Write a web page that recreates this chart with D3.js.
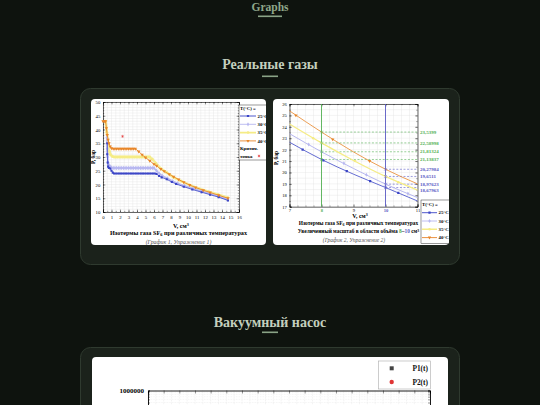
<!DOCTYPE html>
<html><head><meta charset="utf-8">
<script src="https://cdn.jsdelivr.net/npm/d3@7"></script>
<style>html,body{margin:0;padding:0;background:#0e130e;overflow:hidden}</style>
</head><body>
<svg id="c" width="540" height="405"></svg>
<script>
// ---------- DATA ----------
const headings = ["Graphs", "Реальные газы", "Вакуумный насос"];
const seriesNames = ["25°C", "30°C", "35°C", "40°C"];

// Chart 1: isotherms P(V)
const c1XTicks = [0,1,2,3,4,5,6,7,8,9,10,11,12,13,14,15,16];
const c1YTicks = [10,15,20,25,30,35,40,45,50];
const c1T25 = [[0.5,35],[0.5,31],[0.55,28],[0.6,26.5],[0.7,26],[0.85,25.8],[1.0,25],[1.15,24.3],[1.3,24],[1.5,24],[1.7,24],[1.9,24],[2.1,24],[2.3,24],[2.5,24],[2.7,24],[2.9,24],[3.1,24],[3.3,24],[3.5,24],[3.7,24],[3.9,24],[4.1,24],[4.3,24],[4.5,24],[4.7,24],[4.9,24],[5.1,24],[5.3,24],[5.5,24],[5.7,24],[5.9,24],[6.1,24],[6.3,23.8],[6.6,23.1],[6.9,22.6],[7.5,21.9],[8.1,20.9],[8.6,20.2],[9.5,19.2],[10.5,18.2],[11.6,17.2],[12.6,16.3],[13.6,15.4],[14.7,14.2]];
const c1T30 = [[0.45,37],[0.5,33],[0.55,30],[0.6,28],[0.7,27],[0.85,26.5],[1.0,26.2],[1.2,26],[1.4,26],[1.6,26],[1.8,26],[2.0,26],[2.2,26],[2.4,26],[2.6,26],[2.8,26],[3.0,26],[3.2,26],[3.4,26],[3.6,26],[3.8,26],[4.0,26],[4.2,26],[4.4,26],[4.6,26],[4.8,26],[5.0,26],[5.2,26],[5.4,26],[5.6,26],[5.8,26],[6.0,26],[6.3,25.0],[6.6,24.0],[7.0,23.1],[7.6,22.2],[8.2,21.2],[8.8,20.4],[9.6,19.5],[10.6,18.5],[11.6,17.5],[12.6,16.6],[13.6,15.7],[14.7,14.5]];
const c1T35 = [[0.3,43],[0.45,39],[0.6,35],[0.75,32],[0.9,30.8],[1.1,30.2],[1.3,30],[1.5,30],[1.7,30],[1.9,30],[2.1,30],[2.3,30],[2.5,30],[2.7,30],[2.9,30],[3.1,30],[3.3,30],[3.5,30],[3.7,30],[3.9,30],[4.1,30],[4.3,30],[4.5,30],[4.7,30],[4.9,30],[5.1,30],[5.3,30],[5.5,30],[5.8,29.2],[6.2,27.8],[6.8,25.8],[7.5,24.3],[8.3,22.6],[9.2,21.2],[10.2,19.8],[11.2,18.6],[12.4,17.4],[13.5,16.4],[14.7,15.2]];
const c1T40 = [[0,43],[0.15,43],[0.3,43],[0.4,40.5],[0.5,38],[0.6,36.3],[0.7,35],[0.85,33.8],[1.0,33.2],[1.2,33],[1.4,33],[1.6,33],[1.8,33],[2.0,33],[2.2,33],[2.4,33],[2.6,33],[2.8,33],[3.0,33],[3.2,33],[3.4,33],[3.6,33],[3.8,33],[4.2,32],[4.6,30.8],[5.0,29.8],[5.5,28.6],[6.0,27.4],[6.3,26.8],[6.8,25.6],[7.2,24.8],[7.8,23.7],[8.3,22.8],[8.9,21.8],[9.5,20.8],[10.2,19.8],[10.9,18.9],[11.8,17.9],[12.6,17.1],[13.6,16.1],[14.7,15]];
const c1Critical = [[2.3,37.5]];

// Chart 2: zoom 7..11 cm3
const c2XTicks = [7,8,9,10,11];
const c2YTicks = [17,18,19,20,21,22,23,24,25,26];
const c2T25 = [[7,22.65],[8,21.14],[9,19.85],[10,18.68],[11,17.5]];
const c2T30 = [[7,23.4],[8,21.81],[9,20.35],[10,18.98],[11,17.8]];
const c2T35 = [[7,24.25],[8,22.59],[9,21.05],[10,19.65],[11,18.45]];
const c2T40 = [[7,25.4],[8,23.54],[9,21.8],[10,20.28],[11,19.0]];
const c2M25 = [[7.41,22.0],[8.06,21.06],[8.79,20.11],[9.52,19.24],[10.4,18.22]];
const c2M30 = [[7.6,22.45],[8.7,20.8],[9.4,19.8],[10.7,18.15]];
const c2M35 = [[7.74,23.0],[9.05,21.0],[10.4,19.15]];
const c2M40 = [[7.2,25.0],[8.35,22.9],[9.5,21.0]];
const c2GreenV = 8, c2BlueV = 10;
const c2GreenVals = [23.5399, 22.58998, 21.81324, 21.13837];
const c2GreenLabels = ["23,5399", "22,58998", "21,81324", "21,13837"];
const c2BlueVals = [20.27984, 19.6511, 18.97623, 18.67963];
const c2BlueLabels = ["20,27984", "19,6511", "18,97623", "18,67963"];

// Chart 3: vacuum pump (top edge visible only)
const c3Legend = ["P1(t)", "P2(t)"];
const c3YTopLabel = "1000000";
const c3XTicks = [0,1,2,3,4,5,6,7,8,9,10,11,12,13,14,15,16,17,18];

// ---------- DRAW ----------
const svg = d3.select("#c");
const SERIF = "Liberation Serif, Times New Roman, serif";
const COL = {b:"#3b45c6", l:"#b7b7f0", y:"#f5ec86", o:"#e8862a"};
const GREEN = "#52b052", BLUE = "#5a5ac4";

svg.append("rect").attr("width",540).attr("height",405).attr("fill","#0e130e");
const defs = svg.append("defs");
defs.append("clipPath").attr("id","p1").append("rect").attr("x",91).attr("y",99).attr("width",175).attr("height",146).attr("rx",4);
defs.append("clipPath").attr("id","p2").append("rect").attr("x",273).attr("y",99).attr("width",176).attr("height",146).attr("rx",4);
defs.append("clipPath").attr("id","p3").append("rect").attr("x",92).attr("y",357).attr("width",356).attr("height",60).attr("rx",4);

function heading(txt, y, uy, fill, fs, uw){
  svg.append("text").attr("x",270).attr("y",y).attr("text-anchor","middle")
    .attr("font-family",SERIF).attr("font-weight","bold").attr("font-size",fs)
    .attr("fill",fill).text(txt);
  svg.append("rect").attr("x",270-uw/2).attr("y",uy).attr("width",uw).attr("height",1.6)
    .attr("fill","#8aa386");
}
heading(headings[0], 10.5, 15.5, "#8ea68a", 11.5, 24);
heading(headings[1], 69, 75.5, "#c3cfbd", 14, 16);
heading(headings[2], 327, 331.5, "#c3cfbd", 14, 16);

svg.append("rect").attr("x",80.5).attr("y",88.5).attr("width",379).attr("height",176).attr("rx",10)
  .attr("fill","#1b221b").attr("stroke","#2f3a2f");
svg.append("rect").attr("x",80.5).attr("y",347.5).attr("width",379).attr("height",80).attr("rx",10)
  .attr("fill","#1b221b").attr("stroke","#2f3a2f");
svg.append("rect").attr("x",91).attr("y",99).attr("width",175).attr("height",146).attr("rx",4).attr("fill","#fff");
svg.append("rect").attr("x",273).attr("y",99).attr("width",176).attr("height",146).attr("rx",4).attr("fill","#fff");
svg.append("rect").attr("x",92).attr("y",357).attr("width",356).attr("height",60).attr("rx",4).attr("fill","#fff");

function styleAxis(sel, fs){
  sel.attr("font-family",null).attr("font-size",null);
  sel.selectAll("path.domain").attr("stroke","#000").attr("stroke-width",0.6);
  sel.selectAll(".tick line").attr("stroke","#000").attr("stroke-width",0.4);
  sel.selectAll("text").attr("font-family",SERIF).attr("font-size",fs).attr("fill","#000");
}

function frame(g, x, y, xt, yt, xminor, yminor, fs, pad){
  const [xa,xb] = x.range(), [ya,yb] = y.range();
  g.append("g").selectAll("line").data(xminor).join("line")
    .attr("x1",d=>x(d)).attr("x2",d=>x(d)).attr("y1",ya).attr("y2",yb)
    .attr("stroke","#e4e4e4").attr("stroke-width",0.4);
  g.append("g").selectAll("line").data(yminor).join("line")
    .attr("y1",d=>y(d)).attr("y2",d=>y(d)).attr("x1",xa).attr("x2",xb)
    .attr("stroke","#e4e4e4").attr("stroke-width",0.4);
  const b = g.append("g").attr("transform",`translate(0,${ya})`)
    .call(d3.axisBottom(x).tickValues(xt).tickSize(-2.4).tickPadding(pad).tickFormat(d3.format("d")));
  styleAxis(b, fs);
  const l = g.append("g").attr("transform",`translate(${xa},0)`)
    .call(d3.axisLeft(y).tickValues(yt).tickSize(-2.4).tickPadding(2.6).tickFormat(d3.format("d")));
  styleAxis(l, fs);
  const t = g.append("g").attr("transform",`translate(0,${yb})`)
    .call(d3.axisTop(x).tickValues(xt).tickSize(-2.4).tickFormat(""));
  styleAxis(t, fs);
  const r = g.append("g").attr("transform",`translate(${xb},0)`)
    .call(d3.axisRight(y).tickValues(yt).tickSize(-2.4).tickFormat(""));
  styleAxis(r, fs);
  [[d3.axisBottom(x),ya],[d3.axisTop(x),yb]].forEach(([ax,py])=>{
    const m = g.append("g").attr("transform",`translate(0,${py})`).call(ax.tickValues(xminor).tickSize(-1.2).tickFormat(""));
    styleAxis(m, fs); m.select("path.domain").remove();
  });
  [[d3.axisLeft(y),xa],[d3.axisRight(y),xb]].forEach(([ax,px])=>{
    const m = g.append("g").attr("transform",`translate(${px},0)`).call(ax.tickValues(yminor).tickSize(-1.2).tickFormat(""));
    styleAxis(m, fs); m.select("path.domain").remove();
  });
}

function marks(g, data, x, y, type, size, fill, stroke, rot){
  g.append("g").selectAll("path").data(data).join("path")
    .attr("d", d3.symbol().type(type).size(size))
    .attr("transform", d=>`translate(${x(d[0])},${y(d[1])})${rot?" rotate(180)":""}`)
    .attr("fill", fill).attr("stroke", stroke||"none").attr("stroke-width",0.5);
}
function txt(g, x, y, s, fs, opts){
  const t = g.append("text").attr("x",x).attr("y",y).attr("font-family",SERIF).attr("font-size",fs).text(s);
  Object.entries(opts||{}).forEach(([k,v])=>t.attr(k,v));
  return t;
}

// ===== Chart 1 =====
const sx1 = d3.scaleLinear().domain([0,16]).range([103,239]);
const sy1 = d3.scaleLinear().domain([10,50]).range([212,102]);
const g1 = svg.append("g").attr("clip-path","url(#p1)");
frame(g1, sx1, sy1, c1XTicks, c1YTicks, d3.range(0,16.01,0.5), d3.range(10,50.01,1), 4.8, 3.4);
const line1 = d3.line().x(d=>sx1(d[0])).y(d=>sy1(d[1]));
g1.append("path").attr("d",line1(c1T35)).attr("fill","none").attr("stroke",COL.y).attr("stroke-width",2.6).attr("opacity",0.85);
marks(g1, c1T35, sx1, sy1, d3.symbolCircle, 6, COL.y);
g1.append("path").attr("d",line1(c1T30)).attr("fill","none").attr("stroke",COL.l).attr("stroke-width",1.6);
marks(g1, c1T30, sx1, sy1, d3.symbolDiamond, 6, COL.l);
g1.append("path").attr("d",line1(c1T25)).attr("fill","none").attr("stroke",COL.b).attr("stroke-width",0.8);
marks(g1, c1T25, sx1, sy1, d3.symbolSquare, 4.5, COL.b);
g1.append("path").attr("d",line1(c1T40)).attr("fill","none").attr("stroke",COL.o).attr("stroke-width",0.9);
marks(g1, c1T40, sx1, sy1, d3.symbolTriangle, 5, COL.o, null, true);
marks(g1, c1Critical, sx1, sy1, d3.symbolAsterisk, 6, "none", "#e02828");

txt(g1, 0, 0, "P, бар", 5.5, {"transform":`translate(95,${(102+212)/2}) rotate(-90)`,"text-anchor":"middle","font-weight":"bold"});
const vl1 = txt(g1, 181, 228, "", 6.2, {"text-anchor":"middle","font-weight":"bold"});
vl1.append("tspan").text("V, см");
vl1.append("tspan").attr("dy",-2).attr("font-size",4.2).text("3");
const t1 = txt(g1, 178.5, 234.5, "", 6.2, {"text-anchor":"middle","font-weight":"bold"});
t1.append("tspan").text("Изотермы газа SF");
t1.append("tspan").attr("dy",1.4).attr("font-size",4.4).text("6");
t1.append("tspan").attr("dy",-1.4).text(" при различных температурах");
txt(g1, 178.5, 243.5, "(График 1, Упражнение 1)", 5.8, {"text-anchor":"middle","font-style":"italic","fill":"#555"});

const lgCols = [COL.b, COL.l, COL.y, COL.o];
const lgSyms = [d3.symbolSquare, d3.symbolDiamond, d3.symbolCircle, d3.symbolTriangle];
const lg1 = g1.append("g");
lg1.append("rect").attr("x",239).attr("y",105).attr("width",30).attr("height",55).attr("fill","#fff").attr("stroke","#000").attr("stroke-width",0.4);
txt(lg1, 240, 110.2, "T(°C) =", 4.8, {"font-weight":"bold"});
seriesNames.forEach((s,i)=>{
  const yy = 116 + i*8.3;
  lg1.append("line").attr("x1",240).attr("x2",256).attr("y1",yy).attr("y2",yy).attr("stroke",lgCols[i]).attr("stroke-width",i===2?1.6:0.9);
  lg1.append("path").attr("d",d3.symbol().type(lgSyms[i]).size(5)()).attr("transform",`translate(248,${yy})${i===3?" rotate(180)":""}`).attr("fill",lgCols[i]);
  txt(lg1, 257.5, yy+1.7, s, 4.8, {"font-weight":"bold"});
});
txt(lg1, 240, 150, "Критич.", 4.8, {"font-weight":"bold"});
txt(lg1, 240, 157.5, "точка", 4.8, {"font-weight":"bold"});
lg1.append("path").attr("d",d3.symbol().type(d3.symbolAsterisk).size(5)()).attr("transform","translate(259,156)").attr("fill","none").attr("stroke","#e02828").attr("stroke-width",0.6);

// ===== Chart 2 =====
const sx2 = d3.scaleLinear().domain([7,11]).range([289.5,417.5]);
const sy2 = d3.scaleLinear().domain([17,26]).range([206.7,104]);
const g2 = svg.append("g").attr("clip-path","url(#p2)");
frame(g2, sx2, sy2, c2XTicks, c2YTicks, d3.range(7,11.01,0.25), d3.range(17,26.01,0.5), 4.6, 2.2);
g2.selectAll("text").filter(function(){return this.textContent==="8";}).attr("fill",GREEN).attr("font-weight","bold");
g2.selectAll("text").filter(function(){return this.textContent==="10";}).attr("fill",BLUE).attr("font-weight","bold");
const vline = d3.line();
[[c2GreenV,GREEN],[c2BlueV,BLUE]].forEach(([v,c])=>{
  g2.append("path").attr("d",vline([[sx2(v),sy2(17)],[sx2(v),sy2(26)]]))
    .attr("fill","none").attr("stroke",c).attr("stroke-width",0.9);
});
g2.append("g").selectAll("line").data(c2GreenVals).join("line")
  .attr("x1",sx2(c2GreenV)).attr("x2",sx2(11)).attr("y1",d=>sy2(d)).attr("y2",d=>sy2(d))
  .attr("stroke",GREEN).attr("stroke-width",0.6).attr("stroke-dasharray","2,1.6");
g2.append("g").selectAll("line").data(c2BlueVals).join("line")
  .attr("x1",sx2(c2BlueV)).attr("x2",sx2(11)).attr("y1",d=>sy2(d)).attr("y2",d=>sy2(d))
  .attr("stroke",BLUE).attr("stroke-width",0.6).attr("stroke-dasharray","2,1.6");
const line2 = d3.line().x(d=>sx2(d[0])).y(d=>sy2(d[1])).curve(d3.curveMonotoneX);
[[c2T35,COL.y,c2M35,d3.symbolCircle,1.3],[c2T30,COL.l,c2M30,d3.symbolDiamond,1],[c2T25,COL.b,c2M25,d3.symbolSquare,0.8],[c2T40,COL.o,c2M40,d3.symbolTriangle,0.8]]
  .forEach(([d,c,m,s,w],i)=>{
    g2.append("path").attr("d",line2(d)).attr("fill","none").attr("stroke",c).attr("stroke-width",w);
    marks(g2, m, sx2, sy2, s, 5, c, null, i===3);
  });
marks(g2, c2GreenVals.map(v=>[c2GreenV,v]), sx2, sy2, d3.symbolX, 6, "none", GREEN);
marks(g2, c2BlueVals.map(v=>[c2BlueV,v]), sx2, sy2, d3.symbolX, 6, "none", BLUE);
function placeLabels(vals){ let last=-1e9; return vals.map(v=>{let yy=sy2(v); if(yy<last+6.6) yy=last+6.6; last=yy; return yy;}); }
const gy = placeLabels(c2GreenVals), by = placeLabels(c2BlueVals);
c2GreenLabels.forEach((t,i)=>txt(g2, 420, gy[i]+1.7, t, 5, {"font-weight":"bold","fill":GREEN}));
c2BlueLabels.forEach((t,i)=>txt(g2, 420, by[i]+1.7, t, 5, {"font-weight":"bold","fill":BLUE}));
txt(g2, 0, 0, "P, бар", 5.5, {"transform":`translate(278,158) rotate(-90)`,"text-anchor":"middle","font-weight":"bold"});
const vl2 = txt(g2, 360, 218.2, "", 6, {"text-anchor":"middle","font-weight":"bold"});
vl2.append("tspan").text("V, см"); vl2.append("tspan").attr("dy",-2).attr("font-size",4).text("3");
const t2 = txt(g2, 358.5, 224.8, "", 5.4, {"text-anchor":"middle","font-weight":"bold"});
t2.append("tspan").text("Изотермы газа SF");
t2.append("tspan").attr("dy",1.3).attr("font-size",4).text("6");
t2.append("tspan").attr("dy",-1.3).text(" при различных температурах");
const t2b = txt(g2, 358.5, 233.3, "", 5.4, {"text-anchor":"middle","font-weight":"bold"});
t2b.append("tspan").text("Увеличенный масштаб в области объёма ");
t2b.append("tspan").attr("fill",GREEN).text("8");
t2b.append("tspan").text("–");
t2b.append("tspan").attr("fill",BLUE).text("10");
t2b.append("tspan").text(" см");
t2b.append("tspan").attr("dy",-1.7).attr("font-size",3.8).text("3");
txt(g2, 354, 241.7, "(График 2, Упражнение 2)", 5.5, {"text-anchor":"middle","font-style":"italic","fill":"#555"});
const lg2 = g2.append("g");
lg2.append("rect").attr("x",421).attr("y",200).attr("width",30).attr("height",43.5).attr("fill","#fff").attr("stroke","#000").attr("stroke-width",0.4);
txt(lg2, 422, 205.8, "T(°C) =", 4.8, {"font-weight":"bold"});
seriesNames.forEach((s,i)=>{
  const yy = 212.7 + i*8.3;
  lg2.append("line").attr("x1",422).attr("x2",437).attr("y1",yy).attr("y2",yy).attr("stroke",lgCols[i]).attr("stroke-width",i===2?1.4:0.9);
  lg2.append("path").attr("d",d3.symbol().type(lgSyms[i]).size(5)()).attr("transform",`translate(429.5,${yy})${i===3?" rotate(180)":""}`).attr("fill",lgCols[i]);
  txt(lg2, 438.5, yy+1.7, s, 4.8, {"font-weight":"bold"});
});

// ===== Chart 3 (top of vacuum pump chart) =====
const sx3 = d3.scaleLinear().domain([0,18]).range([148,430]);
const sy3 = d3.scaleLog().domain([1e-2,1e6]).range([710,390.5]);
const g3 = svg.append("g").attr("clip-path","url(#p3)");
g3.append("g").selectAll("line").data(d3.range(0,18.01,0.5)).join("line")
  .attr("x1",d=>sx3(d)).attr("x2",d=>sx3(d)).attr("y1",390.5).attr("y2",405)
  .attr("stroke","#d8d8d8").attr("stroke-width",0.4).attr("stroke-dasharray","0.8,0.8");
g3.append("g").selectAll("line").data([9e5,8e5,7e5,6e5,5e5,4e5]).join("line")
  .attr("x1",148).attr("x2",430).attr("y1",d=>sy3(d)).attr("y2",d=>sy3(d))
  .attr("stroke","#e4e4e4").attr("stroke-width",0.4).attr("stroke-dasharray","0.8,0.8");
const a3t = g3.append("g").attr("transform","translate(0,390.5)").call(d3.axisTop(sx3).tickValues(c3XTicks).tickSize(-3).tickFormat(""));
styleAxis(a3t, 6); a3t.select("path.domain").attr("stroke-width",0.9);
const a3l = g3.append("g").attr("transform","translate(148,0)").call(d3.axisLeft(sy3).tickValues([1e6,9e5,8e5,7e5,6e5,5e5,4e5]).tickSize(-2).tickFormat(""));
styleAxis(a3l, 6); a3l.select("path.domain").attr("stroke-width",0.9);
const a3r = g3.append("g").attr("transform","translate(430,0)").call(d3.axisRight(sy3).tickValues([1e6,9e5,8e5,7e5,6e5,5e5,4e5]).tickSize(-2).tickFormat(""));
styleAxis(a3r, 6); a3r.select("path.domain").attr("stroke-width",0.9);
txt(g3, 144, sy3(1e6)+2.4, c3YTopLabel, 7, {"text-anchor":"end","font-weight":"bold"});
const lg3 = g3.append("g");
lg3.append("rect").attr("x",378.5).attr("y",361).attr("width",52).attr("height",28).attr("fill","#fff").attr("stroke","#aaa").attr("stroke-width",0.6);
lg3.append("rect").attr("x",389.7).attr("y",366.3).attr("width",4).attr("height",4).attr("fill","#444");
lg3.append("circle").attr("cx",391.7).attr("cy",382).attr("r",2.2).attr("fill","#e03535");
c3Legend.forEach((t,i)=>txt(lg3, 428, 370.8+i*13.7, t, 7.4, {"text-anchor":"end","font-weight":"bold","fill":"#111"}));
</script>
</body></html>
